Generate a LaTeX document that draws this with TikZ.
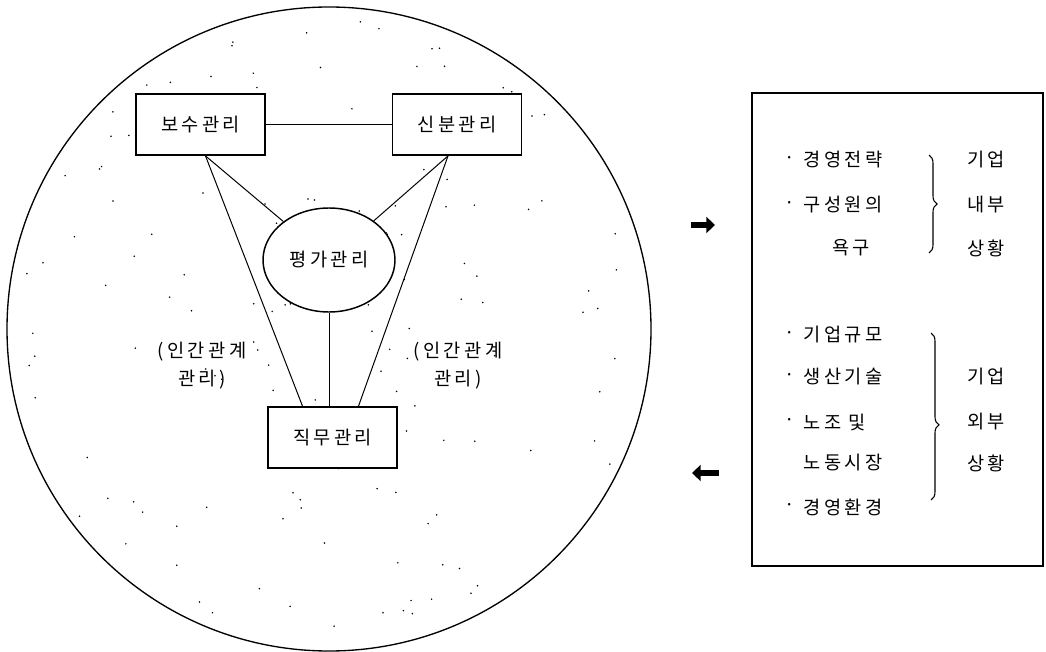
\documentclass[tikz,border=0pt]{standalone}
\usepackage{fontspec}
\newfontfamily\kr[LetterSpace=18]{Noto Sans CJK KR}
\usetikzlibrary{shapes.geometric,decorations.pathreplacing,arrows.meta,calc}

\begin{document}
\begin{tikzpicture}[
    x=0.75pt, y=-0.75pt,
    line width=0.8pt,
    every node/.style={font=\kr\fontsize{14}{21}\selectfont},
    mgmtbox/.style={draw, fill=white, line width=1.1pt, minimum width=97pt, minimum height=46pt, inner sep=0pt},
    link/.style={line width=0.75pt},
    fatarrow/.style={line width=5pt, -{Triangle[length=6.5pt,width=12pt]}}
]
\useasboundingbox (0,0) rectangle (1046,652);

% Outer circle (the environment)
\draw[line width=1pt] (329,329) circle[radius=241.5pt];

% Stipple dots inside the circle
\pgfmathsetseed{17}
\foreach \i in {1,...,150} {
    \pgfmathsetmacro\ang{360*rnd}
    \pgfmathsetmacro\rr{312*sqrt(rnd)}
    \fill ({329+\rr*cos(\ang)},{329+\rr*sin(\ang)}) circle[radius=0.65pt];
}

% The four management areas
\node[mgmtbox] (bosu) at (200.5,124.5) {보수관리};
\node[mgmtbox] (sinbun) at (457,124.5) {신분관리};
\node[mgmtbox] (jikmu) at (332.5,437.5) {직무관리};
\node[draw, fill=white, ellipse, line width=1.1pt, minimum width=99pt, minimum height=78pt, inner sep=0pt] (pyeongga) at (329,260) {평가관리};

% Feet of the connectors
\coordinate (bosuFoot) at ($(bosu.south)+(5,0)$);
\coordinate (sinbunFoot) at ($(sinbun.south)+(-9,0)$);
\coordinate (jikmuL) at ($(jikmu.north)+(-30,0)$);
\coordinate (jikmuR) at ($(jikmu.north)+(26,0)$);

% Connectors
\draw[link] (bosu) -- (sinbun);
\draw[link] (bosuFoot) -- (pyeongga);
\draw[link] (bosuFoot) -- (jikmuL);
\draw[link] (sinbunFoot) -- (pyeongga);
\draw[link] (sinbunFoot) -- (jikmuR);
\draw[link] (pyeongga.south) -- (pyeongga.south |- jikmu.north);

% Human relations labels
\node[align=center] (hrL) at (202,366) {(인간관계\\관리)};
\node[align=center] (hrR) at (458,366) {(인간관계\\관리)};

% Situation box on the right
\node[draw, line width=1.1pt, minimum width=218pt, minimum height=355pt, inner sep=0pt] (envbox) at (897.5,329.5) {};

% Bulleted factors
\foreach \txt/\yy/\nm in {경영전략/160/strategy, 구성원의/205/needs, 기업규모/335/size, 생산기술/377/tech, 노조 및/422/union, 경영환경/507/envt} {
    \node (dot\nm) at (790,\yy) {·};
    \node[anchor=west, inner sep=0pt] (\nm) at (803,\yy) {\txt};
}
\node (needsB) at (851,248) {욕구};
\node[anchor=west, inner sep=0pt] (unionB) at (803,463) {노동시장};

% Right column
\node (inA) at (986,160) {기업};
\node (inB) at (986,205) {내부};
\node (inC) at (986,248) {상황};
\node (outA) at (986,377) {기업};
\node (outB) at (986,422) {외부};
\node (outC) at (986,463) {상황};

% Braces
\draw[decorate, decoration={brace, amplitude=6pt}] (929,155) -- (929,253);
\draw[decorate, decoration={brace, amplitude=6pt, aspect=0.55}] (931,333) -- (931,500);

% In / out arrows
\coordinate (inTail) at (691,225);
\coordinate (inHead) at (715,225);
\coordinate (outTail) at (719,473);
\coordinate (outHead) at (692,473);
\draw[fatarrow] (inTail) -- (inHead);
\draw[fatarrow] (outTail) -- (outHead);

\end{tikzpicture}
\end{document}
